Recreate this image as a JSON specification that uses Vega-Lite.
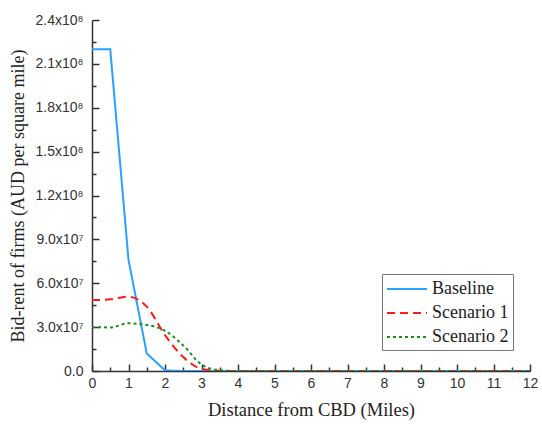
{
  "$schema": "https://vega.github.io/schema/vega-lite/v6.json",
  "autosize": "none",
  "width": 438,
  "height": 351,
  "padding": {"left": 92, "top": 20, "right": 12, "bottom": 54},
  "background": "white",
  "config": {"view": {"stroke": null}},
  "data": {"values": [
    {"d": 0, "v": 220000000, "s": "Baseline"},
    {"d": 0.5, "v": 220000000, "s": "Baseline"},
    {"d": 1, "v": 76000000, "s": "Baseline"},
    {"d": 1.5, "v": 12000000, "s": "Baseline"},
    {"d": 2, "v": 400000, "s": "Baseline"},
    {"d": 2.5, "v": 0, "s": "Baseline"},
    {"d": 3, "v": 0, "s": "Baseline"},
    {"d": 4, "v": 0, "s": "Baseline"},
    {"d": 6, "v": 0, "s": "Baseline"},
    {"d": 8, "v": 0, "s": "Baseline"},
    {"d": 10, "v": 0, "s": "Baseline"},
    {"d": 12, "v": 0, "s": "Baseline"},
    {"d": 0, "v": 48500000, "s": "Scenario 1"},
    {"d": 0.5, "v": 49000000, "s": "Scenario 1"},
    {"d": 1, "v": 50800000, "s": "Scenario 1"},
    {"d": 1.5, "v": 44000000, "s": "Scenario 1"},
    {"d": 2, "v": 24500000, "s": "Scenario 1"},
    {"d": 2.5, "v": 9500000, "s": "Scenario 1"},
    {"d": 3, "v": 1500000, "s": "Scenario 1"},
    {"d": 3.5, "v": 100000, "s": "Scenario 1"},
    {"d": 4, "v": 0, "s": "Scenario 1"},
    {"d": 6, "v": 0, "s": "Scenario 1"},
    {"d": 8, "v": 0, "s": "Scenario 1"},
    {"d": 10, "v": 0, "s": "Scenario 1"},
    {"d": 12, "v": 0, "s": "Scenario 1"},
    {"d": 0, "v": 30000000, "s": "Scenario 2"},
    {"d": 0.5, "v": 29800000, "s": "Scenario 2"},
    {"d": 1, "v": 32600000, "s": "Scenario 2"},
    {"d": 1.5, "v": 31500000, "s": "Scenario 2"},
    {"d": 2, "v": 27500000, "s": "Scenario 2"},
    {"d": 2.5, "v": 17500000, "s": "Scenario 2"},
    {"d": 3, "v": 4500000, "s": "Scenario 2"},
    {"d": 3.5, "v": 500000, "s": "Scenario 2"},
    {"d": 4, "v": 0, "s": "Scenario 2"},
    {"d": 6, "v": 0, "s": "Scenario 2"},
    {"d": 8, "v": 0, "s": "Scenario 2"},
    {"d": 10, "v": 0, "s": "Scenario 2"},
    {"d": 12, "v": 0, "s": "Scenario 2"}
  ]},
  "encoding": {
    "x": {"field": "d", "type": "quantitative",
      "scale": {"domain": [0, 12], "nice": false, "zero": false},
      "axis": {
        "title": "Distance from CBD (Miles)",
        "titleFont": "Liberation Serif", "titleFontSize": 18.5, "titleFontWeight": "normal", "titleColor": "#222", "titlePadding": 7,
        "values": [0,0.5,1,1.5,2,2.5,3,3.5,4,4.5,5,5.5,6,6.5,7,7.5,8,8.5,9,9.5,10,10.5,11,11.5,12],
        "labelExpr": "datum.value % 1 === 0 ? datum.value : ''",
        "labelFont": "Liberation Sans", "labelFontSize": 14, "labelColor": "#333",
        "grid": false, "domainColor": "#333", "domainWidth": 1.5,
        "ticks": true, "tickColor": "#333", "tickWidth": 1.5,
        "tickSize": {"condition": {"test": "datum.value % 1 === 0", "value": -7}, "value": -4},
        "labelPadding": 12, "labelFlush": false, "labelOverlap": false
      }},
    "y": {"field": "v", "type": "quantitative",
      "scale": {"domain": [0, 240000000], "nice": false},
      "axis": {
        "title": "Bid-rent of firms (AUD per square mile)",
        "titleFont": "Liberation Serif", "titleFontSize": 18, "titleFontWeight": "normal", "titleColor": "#222", "titlePadding": 8,
        "values": [0,15000000,30000000,45000000,60000000,75000000,90000000,105000000,120000000,135000000,150000000,165000000,180000000,195000000,210000000,225000000,240000000],
        "labelExpr": "datum.value % 30000000 !== 0 ? '' : (datum.value === 0 ? '0.0' : (datum.value < 100000000 ? format(datum.value/10000000, '.1f') + 'x10⁷' : format(datum.value/100000000, '.1f') + 'x10⁸'))",
        "labelFont": "Liberation Sans", "labelFontSize": 14, "labelColor": "#333",
        "grid": false, "domainColor": "#333", "domainWidth": 1.5,
        "ticks": true, "tickColor": "#333", "tickWidth": 1.5,
        "tickSize": {"condition": {"test": "datum.value % 30000000 === 0", "value": -7}, "value": -4},
        "labelPadding": 16, "labelOverlap": false
      }},
    "color": {"field": "s", "type": "nominal",
      "scale": {"domain": ["Baseline", "Scenario 1", "Scenario 2"], "range": ["#2aa0ff", "#ff1a1a", "#1e8c1e"]},
      "legend": {
        "title": null, "orient": "none", "legendX": 290, "legendY": 254,
        "strokeColor": "#777", "padding": 4, "fillColor": "white",
        "symbolType": "M-1,0H3", "symbolSize": 400, "symbolStrokeWidth": 2,
        "labelFont": "Liberation Serif", "labelFontSize": 18, "labelColor": "#222",
        "rowPadding": 4, "labelOffset": 24
      }},
    "strokeDash": {"field": "s", "type": "nominal",
      "scale": {"domain": ["Baseline", "Scenario 1", "Scenario 2"], "range": [[1, 0], [8, 5], [3, 3]]}}
  },
  "layer": [
    {"transform": [{"filter": "datum.s === 'Baseline'"}],
     "mark": {"type": "line", "strokeWidth": 2, "interpolate": "linear", "clip": true}},
    {"transform": [{"filter": "datum.s !== 'Baseline'"}],
     "mark": {"type": "line", "strokeWidth": 2, "interpolate": "monotone", "clip": true}}
  ]
}
